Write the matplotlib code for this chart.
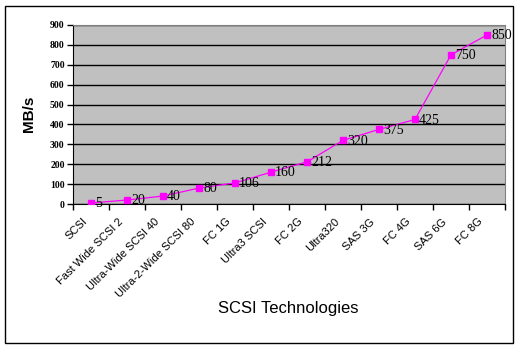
import matplotlib.pyplot as plt
from matplotlib.patches import Rectangle

technologies = ['SCSI', 'Fast Wide SCSI 2', 'Ultra-Wide SCSI 40', 'Ultra-2-Wide SCSI 80',
                'FC 1G', 'Ultra3 SCSI', 'FC 2G', 'Ultra320', 'SAS 3G', 'FC 4G',
                'SAS 6G', 'FC 8G']
speeds = [5, 20, 40, 80, 106, 160, 212, 320, 375, 425, 750, 850]
y_ticks = list(range(0, 901, 100))

fig = plt.figure(figsize=(5.2, 3.5), dpi=100)
fig.patch.set_facecolor('white')
# outer chart frame
fig.patches.append(Rectangle((5 / 520, 7 / 350), 508 / 520, 337 / 350,
                             transform=fig.transFigure, fill=False,
                             edgecolor='black', linewidth=1.0))

ax = fig.add_axes([73 / 520, 1 - 204 / 350, 432 / 520, 179 / 350])
ax.set_facecolor('#C0C0C0')

x = list(range(len(technologies)))
ax.plot(x, speeds, color='#FF00FF', linewidth=0.9, marker='s',
        markersize=4.5, markerfacecolor='#FF00FF', markeredgecolor='#FF00FF', zorder=3)

for xi, v in zip(x, speeds):
    ax.annotate(str(v), (xi, v), xytext=(3, -0.5), textcoords='offset points',
                ha='left', va='center', fontsize=10, family='Liberation Serif', zorder=4)

ax.set_xlim(-0.5, len(technologies) - 0.5)
ax.set_ylim(0, 900)
ax.set_yticks(y_ticks)
ax.set_yticklabels([str(t) for t in y_ticks], family='Liberation Serif',
                   fontweight='bold', fontsize=7)
ax.yaxis.grid(True, color='black', linewidth=1.0)
ax.set_axisbelow(True)

# slanted category labels, anchored slightly left of each point
ax.set_xticks([i - 0.25 for i in x])
ax.set_xticklabels(technologies, rotation=45, ha='right', rotation_mode='anchor',
                   family='Liberation Sans', fontsize=8)
ax.set_xticks([i - 0.5 for i in range(len(technologies) + 1)], minor=True)
ax.tick_params(axis='x', which='major', length=0, pad=9)
ax.tick_params(axis='x', which='minor', length=4, direction='out', width=1)
ax.tick_params(axis='y', length=4, direction='out', width=1, pad=2)

for side in ['top', 'right']:
    ax.spines[side].set_color('#808080')
for side in ['left', 'bottom']:
    ax.spines[side].set_color('black')

fig.text(29 / 520, 1 - 114 / 350, 'MB/s', rotation=90, ha='center', va='center',
         family='Liberation Sans', fontweight='bold', fontsize=11)
fig.text(288 / 520, 1 - 309 / 350, 'SCSI Technologies', ha='center', va='center',
         family='Liberation Sans', fontsize=12)

fig.savefig('out.png', dpi=100)
